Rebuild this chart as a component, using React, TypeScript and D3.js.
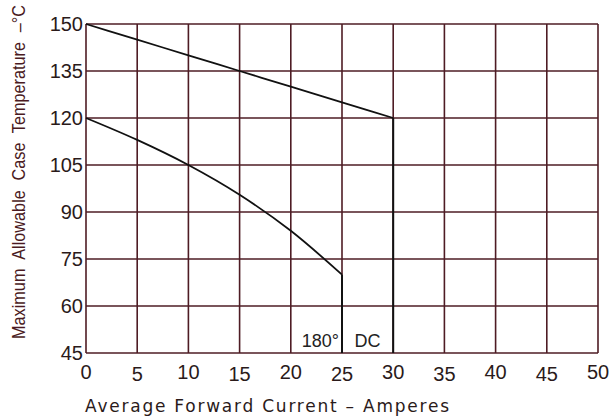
import React from "react";
import * as d3 from "d3";

const xTicks = [0, 5, 10, 15, 20, 25, 30, 35, 40, 45, 50];
const yTicks = [45, 60, 75, 90, 105, 120, 135, 150];

// DC rating curve
const dcCurrent = [0, 5, 10, 15, 20, 25, 30];
const dcTemp = [150, 145, 140, 135, 130, 125, 120];

// 180 degree conduction curve
const c180Current = [0, 5, 10, 15, 20, 25];
const c180Temp = [120, 113, 105, 95.5, 84, 70];

const W = 612;
const H = 419;
const margin = { left: 86, right: 14, top: 24, bottom: 66 };

export default function App() {
  const x = d3.scaleLinear().domain([0, 50]).range([margin.left, W - margin.right]);
  const y = d3.scaleLinear().domain([45, 150]).range([H - margin.bottom, margin.top]);

  const line = d3
    .line<[number, number]>()
    .x((d) => x(d[0]))
    .y((d) => y(d[1]))
    .curve(d3.curveMonotoneX);

  const dc: [number, number][] = dcCurrent.map((c, i) => [c, dcTemp[i]]);
  const c180: [number, number][] = c180Current.map((c, i) => [c, c180Temp[i]]);

  const grid = "#4e1c24";
  const sans = "Liberation Sans, Arial, sans-serif";

  return (
    <svg
      width={W}
      height={H}
      style={{ position: "absolute", left: 0, top: 0, background: "#fff" }}
    >
      {/* grid */}
      {xTicks.map((t) => (
        <line key={"gx" + t} x1={x(t)} x2={x(t)} y1={y(45)} y2={y(150)} stroke={grid} strokeWidth={1.6} />
      ))}
      {yTicks.map((t) => (
        <line key={"gy" + t} x1={x(0)} x2={x(50)} y1={y(t)} y2={y(t)} stroke={grid} strokeWidth={1.6} />
      ))}

      {/* curves */}
      <path d={line(dc) ?? ""} fill="none" stroke="#111" strokeWidth={1.8} />
      <path d={line(c180) ?? ""} fill="none" stroke="#111" strokeWidth={1.8} />
      <line x1={x(30)} x2={x(30)} y1={y(120)} y2={y(45)} stroke="#111" strokeWidth={2} />
      <line x1={x(25)} x2={x(25)} y1={y(70)} y2={y(45)} stroke="#111" strokeWidth={2} />

      {/* curve labels */}
      <text x={x(25) - 3} y={y(45) - 6} textAnchor="end" fontFamily={sans} fontSize={18} fill="#222">
        180°
      </text>
      <text x={x(27.5)} y={y(45) - 6} textAnchor="middle" fontFamily={sans} fontSize={18} fill="#222">
        DC
      </text>

      {/* y tick labels */}
      {yTicks.map((t) => (
        <text
          key={"ty" + t}
          x={x(0) - 3}
          y={y(t)}
          dy="0.35em"
          textAnchor="end"
          fontFamily={sans}
          fontSize={20}
          fill="#2a1a1a"
        >
          {t}
        </text>
      ))}

      {/* x tick labels */}
      {xTicks.map((t, i) => (
        <text
          key={"tx" + t}
          x={x(t)}
          y={y(45) + 26 + (i % 2 === 1 ? 2 : 0)}
          textAnchor="middle"
          fontFamily={sans}
          fontSize={20}
          fill="#2a1a1a"
        >
          {t}
        </text>
      ))}

      {/* axis titles */}
      <text
        x={85}
        y={412}
        fontFamily="DejaVu Sans, sans-serif"
        fontSize={17}
        textLength={364}
        lengthAdjust="spacing"
        fill="#2a1a1a"
      >
        Average Forward Current – Amperes
      </text>
      <text
        transform={`translate(25, 172) rotate(-90)`}
        textAnchor="middle"
        fontFamily={sans}
        fontSize={19}
        wordSpacing={6}
        textLength={334}
        lengthAdjust="spacingAndGlyphs"
        fill="#4a1a22"
      >
        Maximum Allowable Case Temperature –°C
      </text>
    </svg>
  );
}
